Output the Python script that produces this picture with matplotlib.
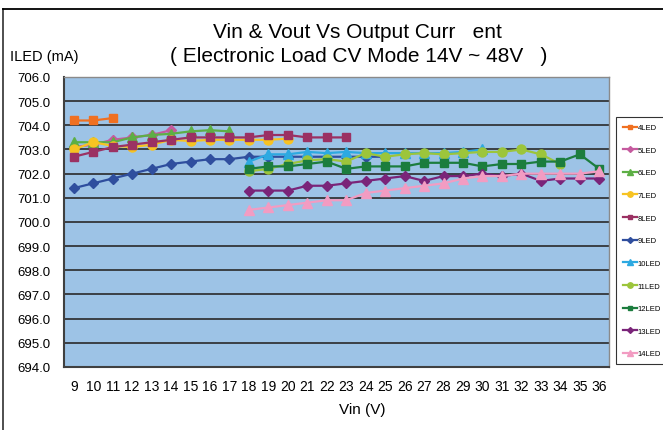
import matplotlib.pyplot as plt
from matplotlib.lines import Line2D

plt.rcParams['font.family'] = ['Liberation Sans', 'DejaVu Sans']

# Vin (V) for each LED count
led4_x = [9, 10, 11]
led4 = [704.2, 704.2, 704.3]
led5_x = [9, 10, 11, 12, 13, 14]
led5 = [703.1, 703.2, 703.4, 703.5, 703.6, 703.8]
led6_x = list(range(9, 18))
led6 = [703.3, 703.3, 703.3, 703.5, 703.6, 703.65, 703.75, 703.8, 703.75]
led7_x = list(range(9, 21))
led7 = [703.0, 703.3, 703.15, 703.1, 703.2, 703.4, 703.35, 703.4, 703.4, 703.4, 703.4, 703.45]
led8_x = list(range(9, 24))
led8 = [702.7, 702.9, 703.1, 703.2, 703.3, 703.4, 703.5, 703.5, 703.5, 703.5, 703.6, 703.6,
        703.5, 703.5, 703.5]
led9_x = list(range(9, 26))
led9 = [701.4, 701.6, 701.8, 702.0, 702.2, 702.4, 702.5, 702.6, 702.6, 702.7, 702.7, 702.7,
        702.7, 702.7, 702.7, 702.7, 702.7]
led10_x = list(range(18, 31))
led10 = [702.5, 702.8, 702.8, 702.9, 702.85, 702.9, 702.85, 702.85, 702.85, 702.85, 702.85,
         702.9, 703.0]
led11_x = list(range(18, 35))
led11 = [702.1, 702.2, 702.4, 702.55, 702.6, 702.5, 702.85, 702.7, 702.8, 702.85, 702.8,
         702.85, 702.9, 702.9, 703.0, 702.8, 702.4]
led12_x = list(range(18, 37))
led12 = [702.2, 702.3, 702.3, 702.4, 702.5, 702.2, 702.3, 702.3, 702.3, 702.45, 702.45,
         702.45, 702.3, 702.4, 702.4, 702.5, 702.5, 702.8, 702.2]
led13_x = list(range(18, 37))
led13 = [701.3, 701.3, 701.3, 701.5, 701.5, 701.6, 701.7, 701.8, 701.9, 701.7, 701.9, 701.9,
         702.0, 701.9, 702.0, 701.7, 701.8, 701.8, 701.8]
led14_x = list(range(18, 37))
led14 = [700.5, 700.6, 700.7, 700.8, 700.9, 700.9, 701.2, 701.3, 701.4, 701.5, 701.6, 701.8,
         701.9, 701.9, 702.0, 702.0, 702.0, 702.0, 702.1]

vin_ticks = list(range(9, 37))
y_ticks = list(range(694, 707))

series = [
    ('4LED', led4_x, led4, '#F07021', 's', 6),
    ('5LED', led5_x, led5, '#C55A9E', 'D', 5),
    ('6LED', led6_x, led6, '#5DAF45', '^', 7),
    ('7LED', led7_x, led7, '#F7C322', 'o', 6.5),
    ('8LED', led8_x, led8, '#9B3163', 's', 6),
    ('9LED', led9_x, led9, '#2F4E9E', 'D', 5),
    ('10LED', led10_x, led10, '#2DA9E1', '^', 7),
    ('11LED', led11_x, led11, '#9CC53B', 'o', 6.5),
    ('12LED', led12_x, led12, '#1C7D3E', 's', 6),
    ('13LED', led13_x, led13, '#7A2479', 'D', 5),
    ('14LED', led14_x, led14, '#F29CC2', '^', 7),
]

fig = plt.figure(figsize=(6.63, 4.31), dpi=100)
ax = fig.add_axes([64/663, 1-368/431, (609-64)/663, (368-78)/431])
ax.set_facecolor('#9DC3E6')

for name, xs, ys, c, m, ms in series:
    ax.plot(xs, ys, color=c, marker=m, markersize=ms, linewidth=1.6, label=name)

ax.set_xlim(8.5, 36.5)
ax.set_ylim(694, 706)
ax.set_xticks(vin_ticks)
ax.set_yticks(y_ticks)
ax.set_yticklabels(['%.1f' % v for v in y_ticks])
ax.tick_params(axis='both', length=0, labelsize=9.5)
ax.tick_params(axis='y', pad=10)
ax.tick_params(axis='x', pad=9, labelsize=10)
for v in y_ticks[1:-1]:
    ax.axhline(v, color='#2a2a2a', linewidth=1.2, zorder=1)
for s in ['left', 'bottom']:
    ax.spines[s].set_color('#404040')
    ax.spines[s].set_linewidth(1.5)
for s in ['top', 'right']:
    ax.spines[s].set_color('#8a8a8a')
    ax.spines[s].set_linewidth(1)

fig.text(357/663, 1-32/431, 'Vin & Vout Vs Output Curr   ent', ha='center', va='center', fontsize=15)
fig.text(359/663, 1-57/431, '( Electronic Load CV Mode 14V ~ 48V   )', ha='center', va='center', fontsize=15)
fig.text(10/663, 1-57/431, 'ILED (mA)', ha='left', va='center', fontsize=10.5)
fig.text(362/663, 1-410/431, 'Vin (V)', ha='center', va='center', fontsize=11)

leg = fig.legend(loc='upper left', bbox_to_anchor=(616/663, 1-118/431), fontsize=5.5,
                 frameon=True, fancybox=False, edgecolor='black', labelspacing=2.0,
                 handlelength=1.8, handletextpad=0.1, borderpad=0.9, borderaxespad=0,
                 markerscale=0.6)
leg.get_frame().set_linewidth(0.8)

# outer chart border
fig.add_artist(Line2D([3/663, 3/663], [0, 1-9.5/431], color='#404040', linewidth=1.3))
fig.add_artist(Line2D([3/663, 1], [1-9.5/431, 1-9.5/431], color='black', linewidth=1.3))

fig.savefig('out.png', dpi=100)
